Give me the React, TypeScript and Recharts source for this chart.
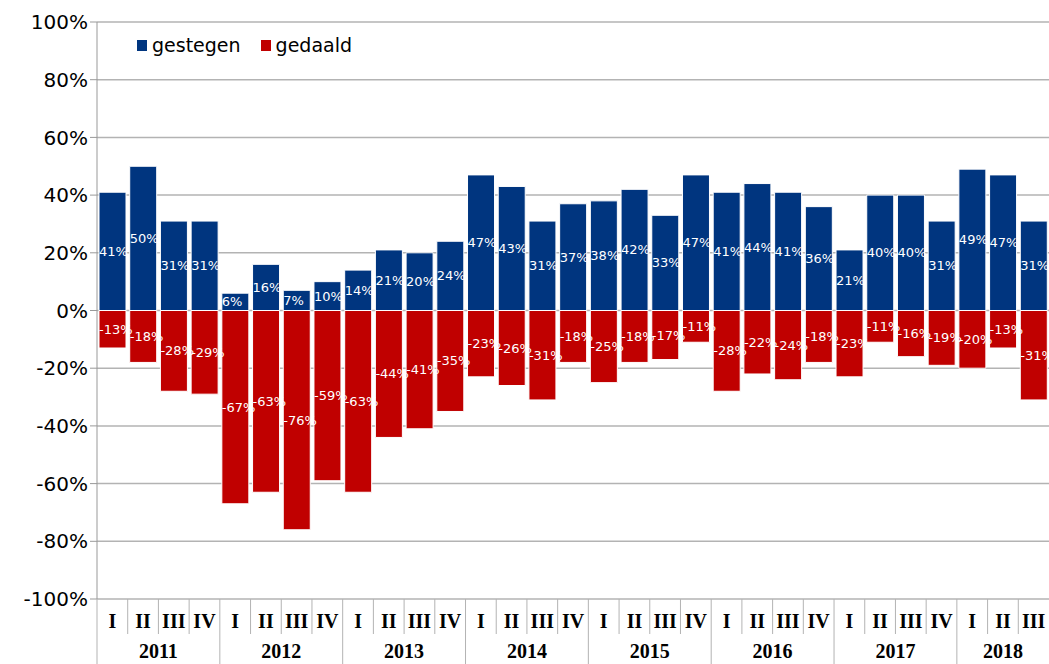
import { Bar, BarChart, CartesianGrid, LabelList, XAxis, YAxis } from 'recharts';

const years = ['2011', '2011', '2011', '2011', '2012', '2012', '2012', '2012', '2013', '2013', '2013', '2013',
    '2014', '2014', '2014', '2014', '2015', '2015', '2015', '2015', '2016', '2016', '2016', '2016',
    '2017', '2017', '2017', '2017', '2018', '2018', '2018'];
const quarters = ['I', 'II', 'III', 'IV', 'I', 'II', 'III', 'IV', 'I', 'II', 'III', 'IV',
    'I', 'II', 'III', 'IV', 'I', 'II', 'III', 'IV', 'I', 'II', 'III', 'IV',
    'I', 'II', 'III', 'IV', 'I', 'II', 'III'];
const gestegen = [41, 50, 31, 31, 6, 16, 7, 10, 14, 21, 20, 24, 47, 43, 31, 37, 38, 42, 33, 47,
    41, 44, 41, 36, 21, 40, 40, 31, 49, 47, 31];
const gedaald = [-13, -18, -28, -29, -67, -63, -76, -59, -63, -44, -41, -35, -23, -26, -31, -18,
    -25, -18, -17, -11, -28, -22, -24, -18, -23, -11, -16, -19, -20, -13, -31];
const yTicks = [-100, -80, -60, -40, -20, 0, 20, 40, 60, 80, 100];

const BLUE = '#00357f';
const RED = '#c00000';
const GRID = '#b3b3b3';

const data = quarters.map((q, i) => ({
    key: `${years[i]}-${q}`,
    quarter: q,
    year: years[i],
    gestegen: gestegen[i],
    gedaald: gedaald[i],
}));

const WIDTH = 1049;
const HEIGHT = 664;
const LEFT = 97;
const TOP = 22;
const BOTTOM_AXIS = 65;
const AXIS_Y = HEIGHT - BOTTOM_AXIS;
const band = (WIDTH - LEFT) / data.length;

function QuarterTick(props: any) {
    const { x, payload } = props;
    const i = payload.index;
    const row = data[i];
    const left = x - band / 2;
    const firstOfYear = i === 0 || data[i - 1].year !== row.year;
    const count = data.filter(d => d.year === row.year).length;
    return (
        <g>
            <line x1={left} x2={left} y1={AXIS_Y} y2={firstOfYear ? HEIGHT : AXIS_Y + 35} stroke={GRID} />
            <text x={x} y={AXIS_Y + 29} textAnchor="middle" fontFamily="Liberation Serif" fontWeight="bold"
                  fontSize={20} fill="#000">{row.quarter}</text>
            {firstOfYear && (
                <text x={left + (count * band) / 2} y={AXIS_Y + 59} textAnchor="middle" fontFamily="Liberation Serif"
                      fontWeight="bold" fontSize={20} fill="#000">{row.year}</text>
            )}
        </g>
    );
}

function ValueLabel(props: any) {
    const { x, y, height, value } = props;
    return (
        <text x={x} y={y + height / 2} dy={4.5} fontFamily="DejaVu Sans" fontSize={13} fill="#fff">
            {`${value}%`}
        </text>
    );
}

function LegendBox() {
    const items = [
        { name: 'gestegen', color: BLUE },
        { name: 'gedaald', color: RED },
    ];
    return (
        <div style={{
            position: 'absolute', left: 137, top: 33, display: 'flex',
            fontFamily: 'DejaVu Sans', fontSize: 19, color: '#000', lineHeight: '24px',
        }}>
            {items.map(it => (
                <div key={it.name} style={{ display: 'flex', alignItems: 'center', marginRight: 20 }}>
                    <span style={{ width: 10, height: 11, background: it.color, marginRight: 5, display: 'inline-block' }} />
                    <span>{it.name}</span>
                </div>
            ))}
        </div>
    );
}

export default function App() {
    return (
        <div style={{ position: 'absolute', left: 0, top: 0, background: '#fff' }}>
            <BarChart width={WIDTH} height={HEIGHT} data={data} stackOffset="sign" barCategoryGap={2}
                      margin={{ top: TOP, right: 0, left: 0, bottom: 0 }}>
                <CartesianGrid vertical={false} stroke={GRID} strokeWidth={1.5} />
                <XAxis dataKey="key" interval={0} height={BOTTOM_AXIS} tickLine={false} axisLine={false}
                       tick={<QuarterTick />} />
                <YAxis width={LEFT} domain={[-100, 100]} ticks={yTicks} interval={0}
                       tickFormatter={(v: number) => `${v}%`} stroke="#999" tickSize={7}
                       tick={{ fill: '#000', fontFamily: 'DejaVu Sans', fontSize: 20 }} />
                <Bar dataKey="gestegen" stackId="a" fill={BLUE} stroke="#fff" strokeWidth={1}
                     isAnimationActive={false}>
                    <LabelList dataKey="gestegen" content={<ValueLabel />} />
                </Bar>
                <Bar dataKey="gedaald" stackId="a" fill={RED} stroke="#fff" strokeWidth={1}
                     isAnimationActive={false}>
                    <LabelList dataKey="gedaald" content={<ValueLabel />} />
                </Bar>
            </BarChart>
            <LegendBox />
        </div>
    );
}
